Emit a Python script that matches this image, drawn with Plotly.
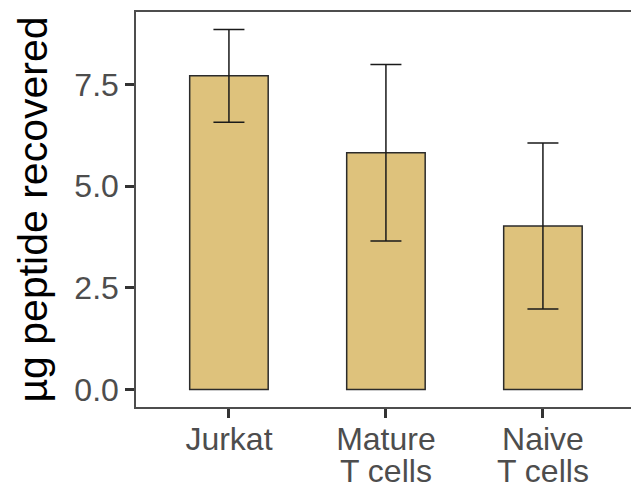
import plotly.graph_objects as go

categories_line1 = ["Jurkat", "Mature", "Naive"]
categories_line2 = ["", "T cells", "T cells"]
means = [7.71, 5.82, 4.02]
sds = [1.14, 2.17, 2.04]
y_tickvals = [0, 2.5, 5, 7.5]
y_ticktext = ["0.0", "2.5", "5.0", "7.5"]

xpos = list(range(len(categories_line1)))

fig = go.Figure()
fig.add_trace(go.Bar(
    x=xpos,
    y=means,
    width=0.5,
    marker=dict(color="#DEC27C", line=dict(color="#2b2b2b", width=1.5)),
    error_y=dict(type="data", array=sds, visible=True, color="#1a1a1a",
                 thickness=1.5, width=15.5),
))

font_family = "Liberation Sans, Arial, sans-serif"
tick_font = dict(size=32, color="#4D4D4D", family=font_family)

for xi, txt in zip(xpos, categories_line2):
    if txt:
        fig.add_annotation(x=xi, xref="x", y=0, yref="paper",
                           text=txt, showarrow=False, font=tick_font,
                           xanchor="center", yanchor="top", yshift=-44)

fig.update_layout(
    width=631, height=489,
    margin=dict(l=136, r=0, t=12, b=82),
    plot_bgcolor="white", paper_bgcolor="white",
    showlegend=False,
    font=dict(family=font_family),
    xaxis=dict(
        automargin=False,
        range=[-0.592, 2.561],
        tickvals=xpos,
        ticktext=categories_line1,
        tickfont=tick_font,
        ticks="outside", ticklen=9, tickwidth=2.5, tickcolor="#333333",
        ticklabelstandoff=-6,
        showline=True, linecolor="#4D4D4D", linewidth=1.5, mirror=True,
        showgrid=False, zeroline=False,
    ),
    yaxis=dict(
        automargin=False,
        range=[-0.43, 9.28],
        tickvals=y_tickvals,
        ticktext=y_ticktext,
        tickfont=tick_font,
        ticks="outside", ticklen=9, tickwidth=2.5, tickcolor="#333333",
        showline=True, linecolor="#4D4D4D", linewidth=1.5, mirror=False,
        showgrid=False, zeroline=False,
        title=dict(text="µg peptide recovered",
                   font=dict(size=41, color="black", family=font_family),
                   standoff=14),
    ),
)

fig.write_html("out.html")
